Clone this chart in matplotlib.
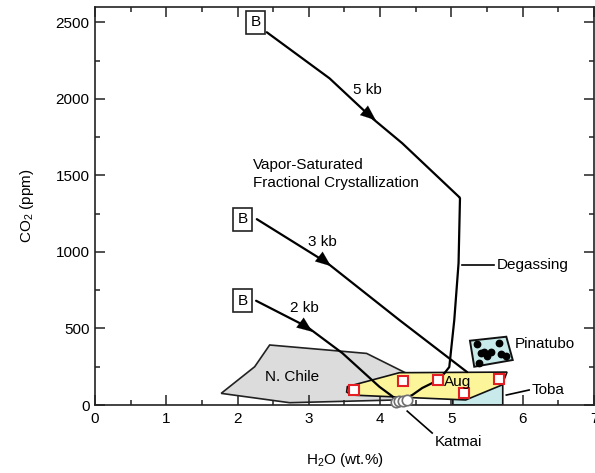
import matplotlib
matplotlib.use("Agg")
import matplotlib.pyplot as plt
import numpy as np
from matplotlib.patches import Polygon
from matplotlib.ticker import MultipleLocator

plt.rcParams['font.family'] = ['Liberation Sans', 'DejaVu Sans']
plt.rcParams['mathtext.fontset'] = 'custom'
plt.rcParams['mathtext.rm'] = 'Liberation Sans'
plt.rcParams['mathtext.it'] = 'Liberation Sans:italic'

# ---- data (H2O wt.%, CO2 ppm) ----
path5_h2o = [2.41, 3.29, 3.89, 4.31, 5.11]
path5_co2 = [2435, 2134, 1873, 1710, 1358]
path3_h2o = [2.27, 3.26, 4.27, 5.22]
path3_co2 = [1214, 927, 555, 215]
path2_h2o = [2.26, 2.98, 3.47, 3.99, 4.24]
path2_co2 = [681, 509, 339, 119, 33]
degas_h2o = [5.11, 5.12, 5.10, 5.04, 4.97, 4.86, 4.76, 4.59, 4.45, 4.30]
degas_co2 = [1358, 1350, 927, 555, 248, 183, 150, 111, 65, 33]

chile_h2o = [1.77, 2.24, 2.45, 3.81, 4.40, 4.23, 2.73]
chile_co2 = [76, 250, 392, 337, 200, 33, 15]
aug_poly_h2o = [3.54, 3.53, 3.60, 5.20, 5.71, 5.78, 4.27]
aug_poly_co2 = [120, 85, 65, 33, 131, 215, 211]
toba_h2o = [5.02, 5.02, 5.72, 5.72]
toba_co2 = [0, 40, 140, 0]
pina_h2o = [5.26, 5.32, 5.86, 5.77]
pina_co2 = [420, 250, 294, 446]

aug_h2o = [3.64, 4.32, 4.81, 5.17, 5.67]
aug_co2 = [98, 157, 163, 78, 170]
pina_pts_h2o = [5.36, 5.67, 5.42, 5.46, 5.50, 5.56, 5.69, 5.77, 5.39]
pina_pts_co2 = [398, 408, 339, 343, 320, 346, 333, 320, 274]
katmai_h2o = [4.22, 4.27, 4.32, 4.38]
katmai_co2 = [22, 25, 28, 30]

labels_kb = ['5 kb', '3 kb', '2 kb']
kb_label_h2o = [3.82, 3.19, 2.94]
kb_label_co2 = [2060, 1066, 631]
b_h2o = [2.25, 2.07, 2.07]
b_co2 = [2500, 1213, 680]
arrow_h2o = [3.94, 3.31, 3.05]
arrow_co2 = [1860, 907, 478]

xticks = [0, 1, 2, 3, 4, 5, 6, 7]
yticks = [0, 500, 1000, 1500, 2000, 2500]

# ---- figure ----
fig = plt.figure(figsize=(5.95, 4.73), dpi=100)
ax = fig.add_axes([95/595, 68/473, (594-95)/595, (405-7)/473])
ax.set_xlim(0, 7)
ax.set_ylim(0, 2600)

lw = 1.6
ax.add_patch(Polygon(np.column_stack([chile_h2o, chile_co2]), closed=True,
                     facecolor='#dcdcdc', edgecolor='#222222', lw=1.2, zorder=1))
ax.add_patch(Polygon(np.column_stack([toba_h2o, toba_co2]), closed=True,
                     facecolor='#c8eaea', edgecolor='#111111', lw=1.2, zorder=2))
ax.add_patch(Polygon(np.column_stack([aug_poly_h2o, aug_poly_co2]), closed=True,
                     facecolor='#fdf59a', edgecolor='#111111', lw=1.2, zorder=3))
ax.add_patch(Polygon(np.column_stack([pina_h2o, pina_co2]), closed=True,
                     facecolor='#c8eaea', edgecolor='#111111', lw=1.4, zorder=3))

for xs, ys in [(path5_h2o, path5_co2), (path3_h2o, path3_co2),
               (path2_h2o, path2_co2), (degas_h2o, degas_co2)]:
    ax.plot(xs, ys, color='black', lw=lw, zorder=4, solid_capstyle='round')

paths = [(path5_h2o, path5_co2), (path3_h2o, path3_co2), (path2_h2o, path2_co2)]
for (xs, ys), ax_h, ax_c in zip(paths, arrow_h2o, arrow_co2):
    # direction of the path near the arrow tip
    i = np.searchsorted(xs, ax_h)
    i = min(max(i, 1), len(xs) - 1)
    dx, dy = xs[i] - xs[i-1], ys[i] - ys[i-1]
    n = np.hypot(dx, dy / 370.0)
    tail = (ax_h - 0.15 * dx / n, ax_c - 0.15 * dy / n)
    ax.annotate('', xy=(ax_h, ax_c), xytext=tail,
                arrowprops=dict(arrowstyle='-|>,head_length=0.55,head_width=0.22',
                                color='black', lw=0.1,
                                mutation_scale=20, shrinkA=0, shrinkB=0), zorder=5)

for t, x, y in zip(labels_kb, kb_label_h2o, kb_label_co2):
    ax.text(x, y, t, fontsize=11, ha='center', va='center', zorder=6)
for x, y in zip(b_h2o, b_co2):
    ax.text(x, y, 'B', fontsize=11, ha='center', va='center', zorder=6,
            bbox=dict(boxstyle='square,pad=0.3', fc='white', ec='#222222', lw=1.2))

ax.plot(aug_h2o, aug_co2, 's', ms=7.5, mfc='white', mec='#e31e24', mew=1.5, zorder=7)
ax.plot(pina_pts_h2o, pina_pts_co2, 'o', ms=4.6, color='black', zorder=7)
ax.plot(katmai_h2o, katmai_co2, 'o', ms=7.5, mfc='white', mec='#6f6f6f', mew=1.2,
        zorder=7, clip_on=False)

ax.text(2.21, 1567, 'Vapor-Saturated', fontsize=11, ha='left', va='center')
ax.text(2.21, 1451, 'Fractional Crystallization', fontsize=11, ha='left', va='center')
ax.text(2.76, 183, 'N. Chile', fontsize=11, ha='center', va='center', zorder=6)
ax.text(4.90, 150, 'Aug', fontsize=11, ha='left', va='center', zorder=8)
ax.text(5.89, 398, 'Pinatubo', fontsize=11, ha='left', va='center', zorder=8)
ax.text(6.12, 98, 'Toba', fontsize=11, ha='left', va='center', zorder=8)
ax.plot([5.77, 6.09], [65, 98], color='black', lw=1.2, zorder=6)
ax.text(5.64, 914, 'Degassing', fontsize=11, ha='left', va='center', zorder=8)
ax.plot([5.15, 5.60], [914, 914], color='black', lw=1.2, zorder=6)
ax.text(4.76, -241, 'Katmai', fontsize=11, ha='left', va='center', clip_on=False)
ax.plot([4.38, 4.73], [-40, -183], color='black', lw=1.2, clip_on=False)

ax.set_xticks(xticks)
ax.set_yticks(yticks)
ax.set_xticklabels([str(v) for v in xticks])
ax.set_yticklabels([str(v) for v in yticks])
ax.xaxis.set_minor_locator(MultipleLocator(0.5))
ax.yaxis.set_minor_locator(MultipleLocator(250))
ax.tick_params(which='both', direction='in', top=True, right=True, labelsize=11,
               width=1.1, color='#222222')
ax.tick_params(which='major', length=7)
ax.tick_params(which='minor', length=3.6)
ax.tick_params(axis='x', pad=5)
ax.tick_params(axis='y', pad=4)
for s in ax.spines.values():
    s.set_linewidth(1.2)
    s.set_color('#222222')

ax.set_xlabel('H$_2$O (wt.%)', fontsize=11, labelpad=18)
ax.set_ylabel('CO$_2$ (ppm)', fontsize=11, labelpad=14)

fig.savefig('out.png', dpi=100)
